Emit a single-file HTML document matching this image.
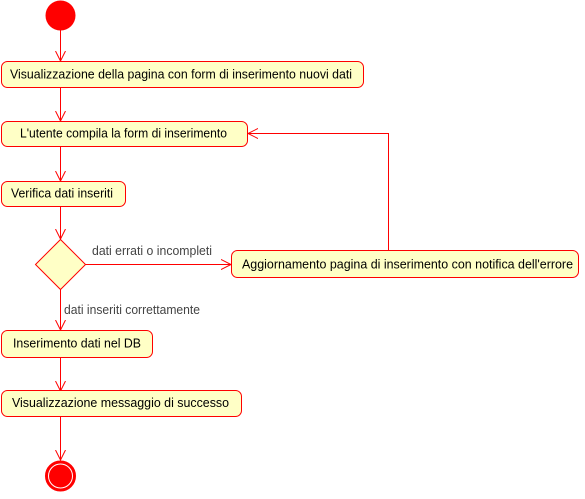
<!DOCTYPE html>
<html><head><meta charset="utf-8"><style>
html,body{margin:0;padding:0;background:#fff;width:585px;height:499px;overflow:hidden}
text{font-family:"Liberation Sans",sans-serif;font-size:12.5px}
</style></head><body>
<svg width="585" height="499" xmlns="http://www.w3.org/2000/svg">
<defs>
<marker id="a" markerWidth="12" markerHeight="12" refX="10" refY="6" orient="auto" markerUnits="userSpaceOnUse">
<path d="M0,1 L10,6 L0,11" fill="none" stroke="#f00" stroke-width="1"/></marker>
</defs>
<g stroke="#f00" fill="none" stroke-width="1">
<line x1="60.5" y1="30" x2="60.5" y2="61" marker-end="url(#a)"/>
<line x1="60.5" y1="88" x2="60.5" y2="121" marker-end="url(#a)"/>
<line x1="60.5" y1="147" x2="60.5" y2="181" marker-end="url(#a)"/>
<line x1="60.5" y1="207" x2="60.5" y2="239" marker-end="url(#a)"/>
<line x1="60.5" y1="289" x2="60.5" y2="330" marker-end="url(#a)"/>
<line x1="60.5" y1="358" x2="60.5" y2="391" marker-end="url(#a)"/>
<line x1="60.5" y1="417" x2="60.5" y2="460" marker-end="url(#a)"/>
<line x1="85" y1="264.5" x2="231" y2="264.5" marker-end="url(#a)"/>
<polyline points="388.5,250 388.5,133.5 248,133.5" marker-end="url(#a)"/>
</g>
<circle cx="60.5" cy="15.5" r="15" fill="#f00"/>
<circle cx="60.5" cy="476" r="15" fill="#f00" stroke="#f00"/>
<circle cx="60.5" cy="476" r="12" fill="#f00" stroke="#fff" stroke-width="1"/>
<g fill="#ffffc6" stroke="#f00" stroke-width="1">
<rect x="1.5" y="61.5" width="362" height="26" rx="6"/>
<rect x="1.5" y="121.5" width="246" height="25" rx="6"/>
<rect x="1.5" y="181.5" width="124" height="25" rx="6"/>
<polygon points="60.5,239.5 85.5,264.5 60.5,289.5 35.5,264.5"/>
<rect x="231.5" y="250.5" width="347" height="27" rx="6"/>
<rect x="1.5" y="330.5" width="151" height="27" rx="6"/>
<rect x="1.5" y="390.5" width="240" height="26" rx="6"/>
</g>
<g fill="#000">
<text x="10" y="78.5" textLength="342" lengthAdjust="spacingAndGlyphs">Visualizzazione della pagina con form di inserimento nuovi dati</text>
<text x="20" y="137.5" textLength="207" lengthAdjust="spacingAndGlyphs">L'utente compila la form di inserimento</text>
<text x="11" y="197.5" textLength="102" lengthAdjust="spacingAndGlyphs">Verifica dati inseriti</text>
<text x="242" y="268.5" textLength="331" lengthAdjust="spacingAndGlyphs">Aggiornamento pagina di inserimento con notifica dell'errore</text>
<text x="13" y="347.5" textLength="128" lengthAdjust="spacingAndGlyphs">Inserimento dati nel DB</text>
<text x="12" y="407" textLength="217" lengthAdjust="spacingAndGlyphs">Visualizzazione messaggio di successo</text>
</g>
<g fill="#444">
<text x="92" y="255" textLength="120" lengthAdjust="spacingAndGlyphs">dati errati o incompleti</text>
<text x="64" y="314" textLength="136" lengthAdjust="spacingAndGlyphs">dati inseriti correttamente</text>
</g>
</svg>
</body></html>
